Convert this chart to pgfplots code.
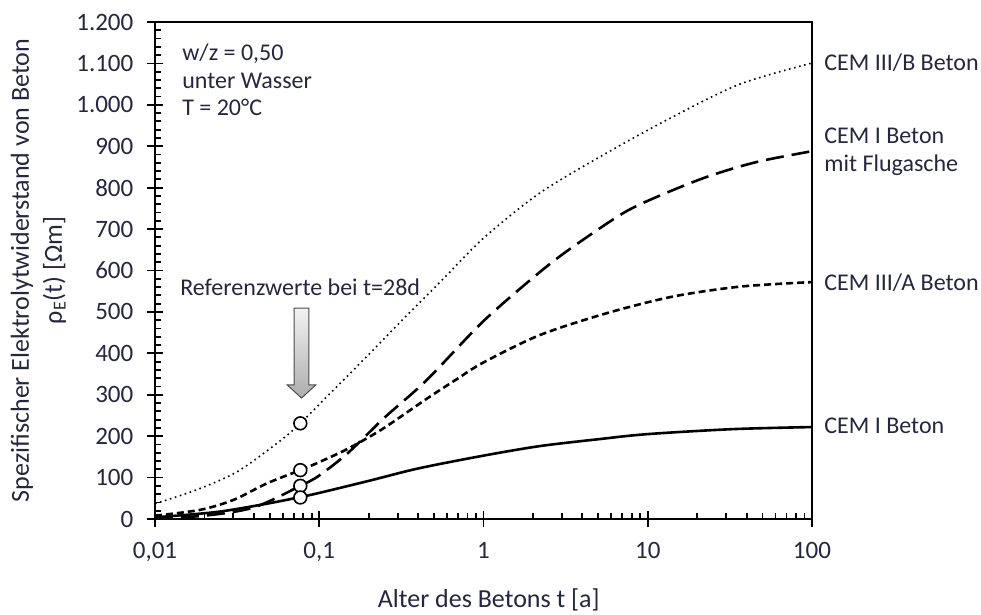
\documentclass[border=0pt]{standalone}
\usepackage{fontspec}
\setmainfont{Carlito}
\usepackage{pgfplots}
\pgfplotsset{compat=1.18}
\definecolor{txt}{RGB}{38,38,64}
\begin{document}
\begin{tikzpicture}
\begin{axis}[
  scale only axis, width=328.5pt, height=248.5pt,
  xmode=log, xmin=0.01, xmax=100, ymin=0, ymax=1200,
  axis lines=box,
  xtick={0.01,0.1,1,10,100}, xticklabels={{0,01},{0,1},1,10,100},
  ytick={0,100,200,300,400,500,600,700,800,900,1000,1100,1200},
  yticklabels={0,100,200,300,400,500,600,700,800,900,{1.000},{1.100},{1.200}},
  minor y tick num=4,
  xtick pos=bottom, ytick pos=left, tick align=inside,
  major tick length=4pt, minor tick length=3pt,
  extra x ticks={0.01,0.1,1,10,100}, extra x tick labels={,,,,},
  extra y ticks={0,100,200,300,400,500,600,700,800,900,1000,1100,1200},
  extra y tick labels={,,,,,,,,,,,,},
  extra tick style={tick align=outside, major tick length=4pt},
  axis line style={black, line width=1.2pt},
  tick style={black, line width=0.9pt},
  tick label style={font=\fontsize{12.5}{15}\selectfont, text=txt},
  xticklabel style={yshift=-8pt},
  yticklabel style={xshift=-7.3pt},
  label style={font=\fontsize{13}{16.5}\selectfont, text=txt},
  xlabel={Alter des Betons t [a]},
  xlabel style={at={(axis description cs:0.508,-0.163)}, anchor=center},
  ylabel={Spezifischer Elektrolytwiderstand von Beton\\ρ\textsubscript{E}(t) [Ωm]},
  ylabel style={at={(axis description cs:-0.1773,0.5)}, anchor=center, align=center},
  clip=false,
]
% CEM III/B (dotted)
\addplot[black, line width=0.8pt, dash pattern=on 0.8pt off 1.8pt, smooth] coordinates {
(0.01,37) (0.0178,70) (0.0316,114) (0.0562,185) (0.0767,231) (0.111,295) (0.2,397) (0.316,478) (0.566,579) (1,678) (2.2,787) (5.64,884) (14.2,971) (36.4,1050) (100,1101)};
% CEM I mit Flugasche (long dashed)
\addplot[black, line width=1.3pt, dash pattern=on 9pt off 4pt, smooth] coordinates {
(0.01,2) (0.02,8) (0.04,28) (0.0767,80) (0.1,105) (0.15,160) (0.25,245) (0.45,335) (1,478) (2.2,596) (3.5,657) (7.05,738) (11.4,778) (22.9,826) (46.1,862) (100,888)};
% CEM III/A (short dashed)
\addplot[black, line width=1.3pt, dash pattern=on 3.5pt off 2pt, smooth] coordinates {
(0.01,8) (0.0188,22) (0.03,46) (0.048,86) (0.0767,118) (0.097,135) (0.15,170) (0.244,218) (0.45,290) (0.69,338) (1,378) (2.2,444) (5.64,497) (14.2,537) (36.4,561) (100,572)};
% CEM I (solid)
\addplot[black, line width=1.3pt, smooth] coordinates {
(0.01,4) (0.0238,17) (0.048,37) (0.0767,53) (0.1,63) (0.2,92) (0.4,122) (1,153) (2.2,176) (5.1,193) (10,205) (33,217) (100,222)};
% reference values at t = 28 d
\addplot[only marks, mark=*, mark size=3.2pt, mark options={fill=white, draw=black, line width=0.8pt}] coordinates {
(0.0767,231) (0.0767,118) (0.0767,80) (0.0767,52)};
% arrow
\shade[top color=gray!10, bottom color=gray!65, draw=gray!60!black, line width=0.5pt]
 ([xshift=-3.7pt]axis cs:0.078,509) -- ([xshift=3.7pt]axis cs:0.078,509) --
 ([xshift=3.7pt]axis cs:0.078,324) -- ([xshift=7.2pt]axis cs:0.078,324) --
 (axis cs:0.078,292) -- ([xshift=-7.2pt]axis cs:0.078,324) --
 ([xshift=-3.7pt]axis cs:0.078,324) -- cycle;
\node[anchor=north west, align=left, inner sep=0pt, font=\fontsize{12}{13.75}\selectfont, text=txt] at (axis description cs:0.041,0.956) {w/z = 0,50\\unter Wasser\\T = 20°C};
\node[anchor=west, inner sep=0pt, font=\fontsize{12}{14}\selectfont, text=txt] at (axis description cs:0.038,0.467) {Referenzwerte bei t=28d};
\node[anchor=west, inner sep=0pt, xshift=6pt, font=\fontsize{12}{14}\selectfont, text=txt] at (axis cs:100,1101) {CEM III/B Beton};
\node[anchor=west, align=left, inner sep=0pt, xshift=6pt, font=\fontsize{12}{14}\selectfont, text=txt] at (axis cs:100,886) {CEM I Beton\\mit Flugasche};
\node[anchor=west, inner sep=0pt, xshift=6pt, font=\fontsize{12}{14}\selectfont, text=txt] at (axis cs:100,570) {CEM III/A Beton};
\node[anchor=west, inner sep=0pt, xshift=6pt, font=\fontsize{12}{14}\selectfont, text=txt] at (axis cs:100,225) {CEM I Beton};
\coordinate (sw) at (rel axis cs:0,0);
\coordinate (ne) at (rel axis cs:1,1);
\end{axis}
\draw[black, line width=1.2pt] (sw) rectangle (ne);
\pgfresetboundingbox
\path[use as bounding box] ([shift={(-77.5pt,-47.5pt)}]sw) rectangle ([shift={(84.5pt,11pt)}]ne);
\end{tikzpicture}
\end{document}
